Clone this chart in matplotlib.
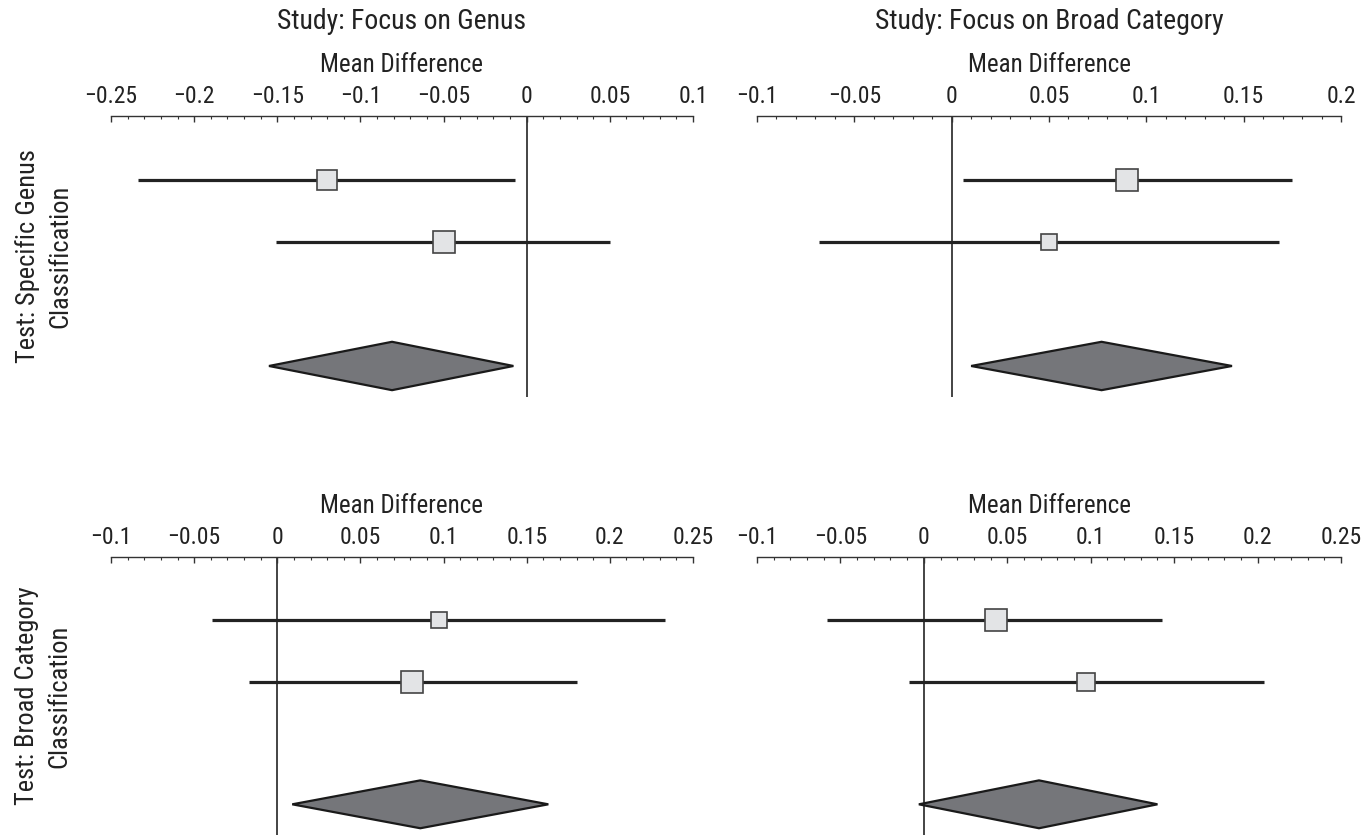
import matplotlib
matplotlib.use("Agg")
import matplotlib.pyplot as plt
from matplotlib.ticker import MultipleLocator, FuncFormatter

plt.rcParams['font.family'] = ['Roboto Condensed', 'Archivo Narrow', 'Barlow Semi Condensed', 'DejaVu Sans']

# study columns and test rows
col_titles = ["Study: Focus on Genus", "Study: Focus on Broad Category"]
row_titles = ["Test: Specific Genus\nClassification", "Test: Broad Category\nClassification"]

# x ranges of each panel (row, col)
xlims = {(0, 0): (-0.25, 0.1), (0, 1): (-0.1, 0.2),
         (1, 0): (-0.1, 0.25), (1, 1): (-0.1, 0.25)}

# per panel: two studies (lower CI, upper CI, estimate, marker size) and the pooled diamond
tl_lo = [-0.234, -0.151]
tl_hi = [-0.007, 0.050]
tl_est = [-0.120, -0.050]
tl_ms = [15, 16]
tl_pool = (-0.155, -0.081, -0.008)

tr_lo = [0.006, -0.068]
tr_hi = [0.175, 0.168]
tr_est = [0.090, 0.050]
tr_ms = [16.5, 11]
tr_pool = (0.010, 0.077, 0.144)

bl_lo = [-0.039, -0.017]
bl_hi = [0.233, 0.180]
bl_est = [0.097, 0.081]
bl_ms = [11, 16.5]
bl_pool = (0.009, 0.086, 0.163)

br_lo = [-0.058, -0.009]
br_hi = [0.143, 0.204]
br_est = [0.043, 0.097]
br_ms = [16.5, 13.5]
br_pool = (-0.003, 0.069, 0.140)

panels = {(0, 0): (tl_lo, tl_hi, tl_est, tl_ms, tl_pool),
          (0, 1): (tr_lo, tr_hi, tr_est, tr_ms, tr_pool),
          (1, 0): (bl_lo, bl_hi, bl_est, bl_ms, bl_pool),
          (1, 1): (br_lo, br_hi, br_est, br_ms, br_pool)}

W, H = 1372, 835
fig = plt.figure(figsize=(W / 100, H / 100), dpi=100)

# axes boxes in pixels: left, right, top, bottom
col_px = [(111, 693), (757, 1341)]
row_px = [(116, 397), (557, 835)]
FS = 18
TXT = '#222222'


def fmt(v, pos):
    s = "%g" % round(v, 3)
    if s == "-0":
        s = "0"
    return s.replace("-", "\u2212")


for (r, c), (lo, hi, est, ms, pool) in panels.items():
    x0, x1 = col_px[c]
    y0, y1 = row_px[r]
    ax = fig.add_axes([x0 / W, 1 - y1 / H, (x1 - x0) / W, (y1 - y0) / H])
    ax.set_xlim(*xlims[(r, c)])
    ax.set_ylim(3.5, -1.03)

    ax.axvline(0, color='#111111', lw=1.1, zorder=1)
    for i in range(len(lo)):
        ax.plot([lo[i], hi[i]], [i, i], color='#222222', lw=2.3,
                solid_capstyle='butt', zorder=2)
        ax.plot(est[i], i, 's', ms=ms[i], mfc='#e3e4e6', mec='#444444',
                mew=1.2, zorder=3)
    p_lo, p_est, p_hi = pool
    ax.fill([p_lo, p_est, p_hi, p_est], [3, 2.61, 3, 3.39],
            facecolor='#75767a', edgecolor='#1a1a1a', lw=1.6, zorder=3)

    for s in ['left', 'right', 'bottom']:
        ax.spines[s].set_visible(False)
    ax.spines['top'].set_linewidth(1.0)
    ax.spines['top'].set_color('#333333')
    ax.set_yticks([])
    ax.xaxis.set_ticks_position('top')
    ax.xaxis.set_major_locator(MultipleLocator(0.05))
    ax.xaxis.set_minor_locator(MultipleLocator(0.01))
    ax.xaxis.set_major_formatter(FuncFormatter(fmt))
    ax.tick_params(axis='x', which='major', direction='in', length=4,
                   width=1.0, color='#333333', labelsize=17, labelcolor=TXT, pad=6)
    ax.tick_params(axis='x', which='minor', direction='in', length=2.2,
                   width=0.8, color='#333333')

    # axis name and column title above the top spine
    ax.annotate("Mean Difference", xy=(0.5, 1), xycoords='axes fraction',
                xytext=(0, 37), textcoords='offset points',
                ha='center', va='center', fontsize=FS, color=TXT)
    if r == 0:
        ax.annotate(col_titles[c], xy=(0.5, 1), xycoords='axes fraction',
                    xytext=(0, 68), textcoords='offset points',
                    ha='center', va='center', fontsize=20, color=TXT)
    if c == 0:
        fig.text(43.5 / W, 1 - (y0 + y1) / 2 / H, row_titles[r], rotation=90,
                 ha='center', va='center', multialignment='center',
                 fontsize=19, color=TXT, linespacing=1.45)

fig.savefig("out.png", dpi=100)
